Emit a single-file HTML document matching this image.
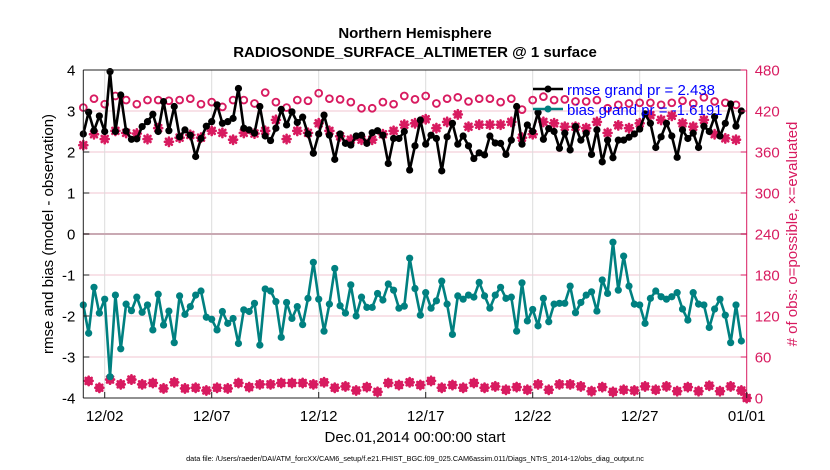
<!DOCTYPE html>
<html><head><meta charset="utf-8"><style>
body{margin:0;background:#fff}
svg{display:block;font-family:"Liberation Sans",Arial,sans-serif}
</style></head><body>
<svg id="chart" width="830" height="470" viewBox="0 0 830 470" xmlns="http://www.w3.org/2000/svg">
<rect width="830" height="470" fill="#fff"/>
<text x="415" y="38" text-anchor="middle" font-size="15" font-weight="bold">Northern Hemisphere</text>
<text x="415" y="57" text-anchor="middle" font-size="15" font-weight="bold">RADIOSONDE_SURFACE_ALTIMETER @ 1 surface</text>
<g id="grid"></g>
<g id="series"></g>
<g id="axes"></g>
<text transform="translate(53,234) rotate(-90)" text-anchor="middle" font-size="15">rmse and bias (model - observation)</text>
<text transform="translate(797,234) rotate(-90)" text-anchor="middle" font-size="15" fill="#d81b60"># of obs: o=possible, ×=evaluated</text>
<text x="415" y="442" text-anchor="middle" font-size="15">Dec.01,2014 00:00:00 start</text>
<text x="415" y="461" text-anchor="middle" font-size="7.3">data file: /Users/raeder/DAI/ATM_forcXX/CAM6_setup/f.e21.FHIST_BGC.f09_025.CAM6assim.011/Diags_NTrS_2014-12/obs_diag_output.nc</text>
<g>
<line x1="533" y1="89" x2="563" y2="89" stroke="#000" stroke-width="2.5"/>
<circle cx="548" cy="89" r="3.5" fill="#000"/>
<text x="567" y="95" font-size="15" fill="#0000ff">rmse grand pr = 2.438</text>
<line x1="533" y1="109" x2="563" y2="109" stroke="#008080" stroke-width="2.5"/>
<circle cx="548" cy="109" r="3.5" fill="#008080"/>
<text x="567" y="115" font-size="15" fill="#0000ff">bias grand pr = -1.6191</text>
</g>
</svg>
<script>
const rmse=[2.44,2.97,2.52,2.88,2.50,3.96,2.50,3.39,2.51,2.31,2.32,2.62,2.74,2.92,2.50,3.23,2.52,3.11,2.37,2.54,2.41,1.89,2.33,2.63,2.74,3.15,2.70,2.74,2.82,3.55,2.58,2.54,2.46,3.11,2.39,2.28,2.58,3.04,2.66,2.98,2.72,2.85,2.44,1.97,2.44,2.90,2.41,1.82,2.44,2.21,2.17,2.39,2.41,2.21,2.47,2.52,2.41,1.72,2.33,2.33,2.50,1.56,2.15,2.78,2.19,2.41,2.33,1.54,2.37,2.70,2.19,2.39,2.15,1.84,1.98,1.93,2.39,2.22,2.21,1.94,2.29,3.11,2.19,2.66,2.50,2.96,2.31,2.57,2.50,2.09,2.46,2.05,2.62,2.29,2.46,1.94,2.54,1.76,2.29,1.86,2.29,2.29,2.36,2.44,2.56,2.93,2.70,2.11,2.37,2.70,2.39,1.87,2.54,2.33,2.46,2.11,2.63,2.50,2.86,2.39,2.70,3.17,2.63,3.00];
const bias=[-1.73,-2.42,-1.30,-1.93,-1.59,-3.48,-1.49,-2.80,-1.71,-1.87,-1.54,-1.91,-1.73,-2.34,-1.47,-2.22,-1.88,-2.65,-1.51,-1.96,-1.77,-1.49,-1.39,-2.03,-2.08,-2.34,-1.89,-2.18,-2.06,-2.67,-1.85,-1.89,-1.69,-2.71,-1.34,-1.39,-1.65,-2.52,-1.67,-2.06,-1.77,-2.21,-1.57,-0.69,-1.59,-2.37,-1.71,-0.84,-1.75,-1.93,-1.24,-2.00,-1.54,-1.79,-1.79,-1.45,-1.61,-1.22,-1.37,-1.81,-1.76,-0.59,-1.33,-1.98,-1.43,-1.81,-1.63,-1.15,-1.71,-2.45,-1.51,-1.59,-1.49,-1.54,-1.18,-1.51,-1.81,-1.49,-1.30,-1.57,-1.54,-2.37,-1.19,-2.12,-1.84,-2.24,-1.57,-2.14,-1.71,-1.69,-1.69,-1.27,-1.92,-1.67,-1.49,-1.41,-1.88,-1.12,-1.45,-0.20,-1.37,-0.54,-1.27,-1.71,-1.73,-2.18,-1.57,-1.39,-1.53,-1.59,-1.53,-1.43,-1.83,-2.10,-1.43,-1.71,-1.73,-2.28,-1.83,-1.59,-1.98,-2.65,-1.73,-2.61];
const possible=[425,25,438,15,430,27,442,20,436,27,430,20,436,22,436,14,435,23,436,14,438,15,430,11,433,15,426,14,436,22,436,16,431,20,447,20,433,22,425,22,436,22,435,20,446,23,438,15,437,17,433,11,424,16,424,9,433,22,430,19,442,23,437,19,442,25,431,15,438,19,440,15,434,22,438,15,438,17,433,12,438,16,422,12,436,20,441,12,436,20,437,20,434,17,434,10,436,16,424,9,429,12,431,11,432,17,432,12,429,17,432,10,435,16,431,10,440,18,434,10,432,17,429,11,0];
const evaluated=[370,25,386,15,379,27,391,20,388,27,387,20,379,22,395,14,375,23,381,14,385,15,381,11,391,15,388,14,378,22,388,16,387,20,391,20,407,22,379,22,391,22,388,20,402,23,391,15,383,17,378,11,378,16,378,9,386,22,391,19,400,23,402,19,408,25,395,15,404,19,415,15,397,22,400,15,400,17,400,12,404,16,381,12,386,20,404,12,402,20,397,20,397,17,395,10,404,16,388,9,399,12,395,11,402,17,414,12,407,17,413,10,402,16,397,10,407,18,386,10,380,17,378,11,0];
const xTickDays=[1,6,11,16,21,26,31];
const xTickLabels=["12/02","12/07","12/12","12/17","12/22","12/27","01/01"];
const yTicks=[-4,-3,-2,-1,0,1,2,3,4];
const rTicks=[0,60,120,180,240,300,360,420,480];

const X0=83.3,X1=746.7,Y0=398,Y1=70;
const xs=d=>X0+(d/31)*(X1-X0);
const ys=v=>Y0-(v+4)/8*(Y0-Y1);
const yr=c=>ys((c-240)/60);
const NS="http://www.w3.org/2000/svg";
function mk(tag,attrs,parent){const e=document.createElementNS(NS,tag);for(const k in attrs)e.setAttribute(k,attrs[k]);parent.appendChild(e);return e;}
const grid=document.getElementById('grid'),ser=document.getElementById('series'),ax=document.getElementById('axes');
const PINK="#d81b60";
yTicks.forEach(v=>{if(v===0||v===4||v===-4)return;const l=mk('line',{x1:X0,x2:X1,y1:ys(v),y2:ys(v),stroke:'#f2c4d2','stroke-width':1},grid);

});
xTickDays.forEach(d=>{if(d===31)return;const l=mk('line',{x1:xs(d),x2:xs(d),y1:Y1,y2:Y0,stroke:'#dcdcdc','stroke-width':1},grid);

});
const zl=mk('line',{x1:X0,x2:X1,y1:ys(0),y2:ys(0),stroke:'#c9a9b3','stroke-width':2},grid);


function day(i){return i*0.25;}
possible.forEach((c,i)=>{const m=mk('circle',{cx:xs(day(i)),cy:yr(c),r:3.4,fill:'none',stroke:PINK,'stroke-width':1.9},ser);

});
evaluated.forEach((c,i)=>{const cx=xs(day(i)),cy=yr(c),g=mk('g',{stroke:PINK,'stroke-width':2.6,'stroke-linecap':'round'},ser);


[[0,4.2],[4,0],[3,3],[3,-3]].forEach(([dx,dy])=>mk('line',{x1:cx-dx,y1:cy-dy,x2:cx+dx,y2:cy+dy},g));});
function series(arr,color,name){const pts=arr.map((v,i)=>xs(day(i)).toFixed(1)+','+ys(v).toFixed(1)).join(' ');
const pl=mk('polyline',{points:pts,fill:'none',stroke:color,'stroke-width':2.6,'stroke-linejoin':'round'},ser);


arr.forEach((v,i)=>{const c=mk('circle',{cx:xs(day(i)),cy:ys(v),r:3.6,fill:color},ser);

});}
series(bias,'#008080','bias');
series(rmse,'#000000','rmse');
mk('line',{x1:X0,x2:X1,y1:Y1,y2:Y1,stroke:'#222','stroke-width':1},ax);
mk('line',{x1:X0,x2:X1,y1:Y0,y2:Y0,stroke:'#222','stroke-width':1},ax);
mk('line',{x1:X0,x2:X0,y1:Y1,y2:Y0,stroke:'#222','stroke-width':1},ax);
mk('line',{x1:X1,x2:X1,y1:Y1,y2:Y0,stroke:PINK,'stroke-width':1},ax);
yTicks.forEach(v=>{mk('line',{x1:X0,x2:X0+6,y1:ys(v),y2:ys(v),stroke:'#222'},ax);
const t=mk('text',{x:X0-8,y:ys(v)+5.5,'text-anchor':'end','font-size':15},ax);t.textContent=v;

});
rTicks.forEach(c=>{mk('line',{x1:X1-6,x2:X1,y1:yr(c),y2:yr(c),stroke:PINK},ax);
const t=mk('text',{x:X1+8,y:yr(c)+5.5,'font-size':15,fill:PINK},ax);t.textContent=c;

});
xTickDays.forEach((d,k)=>{mk('line',{x1:xs(d),x2:xs(d),y1:Y0,y2:Y0-6,stroke:'#222'},ax);
const t=mk('text',{x:xs(d),y:421,'text-anchor':'middle','font-size':15},ax);t.textContent=xTickLabels[k];

});
</script>
</body></html>
